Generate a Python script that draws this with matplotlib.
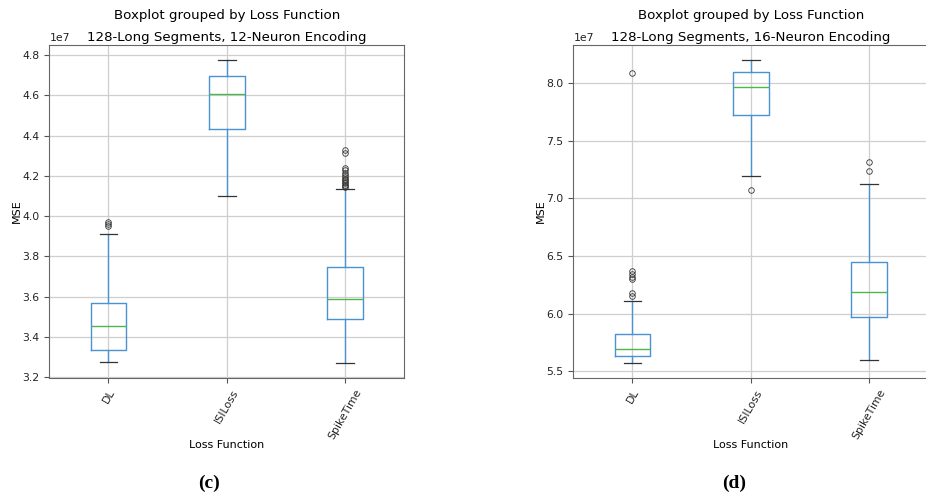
import matplotlib
matplotlib.use('Agg')
import matplotlib.pyplot as plt

categories = ['DL', 'ISILoss', 'SpikeTime']

# panel (c): 12-neuron encoding, values in units of 1e7
c_whislo = [3.273, 4.099, 3.270]
c_q1 = [3.334, 4.431, 3.487]
c_med = [3.453, 4.605, 3.586]
c_q3 = [3.566, 4.696, 3.745]
c_whishi = [3.909, 4.774, 4.134]
c_fliers = [
    [3.952, 3.958, 3.968],
    [],
    [4.142, 4.148, 4.155, 4.162, 4.170, 4.178, 4.186, 4.195, 4.205,
     4.215, 4.228, 4.240, 4.312, 4.328],
]

# panel (d): 16-neuron encoding, values in units of 1e7
d_whislo = [5.570, 7.197, 5.600]
d_q1 = [5.630, 7.727, 5.972]
d_med = [5.691, 7.965, 6.184]
d_q3 = [5.819, 8.095, 6.444]
d_whishi = [6.106, 8.200, 7.122]
d_fliers = [
    [6.152, 6.175, 6.297, 6.314, 6.340, 6.369, 8.087],
    [7.070],
    [7.237, 7.319],
]

titles = ['128-Long Segments, 12-Neuron Encoding',
          '128-Long Segments, 16-Neuron Encoding']
panel_labels = ['(c)', '(d)']


def make_stats(lo, q1, med, q3, hi, fl):
    stats = []
    for i, name in enumerate(categories):
        stats.append(dict(label=name, whislo=lo[i] * 1e7, q1=q1[i] * 1e7,
                          med=med[i] * 1e7, q3=q3[i] * 1e7,
                          whishi=hi[i] * 1e7,
                          fliers=[v * 1e7 for v in fl[i]]))
    return stats


fig = plt.figure(figsize=(9.26, 5.0), dpi=100)
ax_c = fig.add_axes([49.3 / 926, 1 - 378 / 500, 355 / 926, 333 / 500])
ax_d = fig.add_axes([573.3 / 926, 1 - 378 / 500, 355 / 926, 333 / 500])

panels = [
    (ax_c, make_stats(c_whislo, c_q1, c_med, c_q3, c_whishi, c_fliers),
     (3.195e7, 4.85e7)),
    (ax_d, make_stats(d_whislo, d_q1, d_med, d_q3, d_whishi, d_fliers),
     (5.44e7, 8.333e7)),
]

blue = '#4a93d2'
for k, (ax, stats, ylim) in enumerate(panels):
    ax.bxp(stats, positions=[1, 2, 3], widths=0.3, showfliers=True,
           boxprops=dict(color=blue, lw=1),
           whiskerprops=dict(color=blue, lw=1),
           medianprops=dict(color='#4cb84c', lw=1),
           capprops=dict(color='#333333', lw=0.9),
           flierprops=dict(marker='o', markerfacecolor='none',
                           markeredgecolor='#333333', markersize=4,
                           markeredgewidth=0.6))
    ax.set_xlim(0.5, 3.5)
    ax.set_ylim(*ylim)
    ax.grid(True, color='#cfcfcf', lw=0.9)
    ax.set_axisbelow(True)
    ax.tick_params(labelsize=7.8, color='#555555', labelcolor='#222222')
    ax.yaxis.get_offset_text().set_fontsize(7.8)
    plt.setp(ax.get_xticklabels(), rotation=60)
    ax.set_xlabel('Loss Function', fontsize=8, labelpad=-1)
    ax.set_ylabel('MSE', fontsize=8, labelpad=0.5)
    ax.set_title(titles[k], fontsize=9.6, pad=3)
    ax.text(0.5, 1.0 + 30 / 333, 'Boxplot grouped by Loss Function',
            transform=ax.transAxes, ha='center', va='center', fontsize=9.6)
    for s in ax.spines.values():
        s.set_color('#666666')

fig.text(209 / 926, 1 - 483 / 500, panel_labels[0], ha='center', va='center',
         fontsize=14, fontweight='bold', family='Liberation Serif')
fig.text(734 / 926, 1 - 483 / 500, panel_labels[1], ha='center', va='center',
         fontsize=14, fontweight='bold', family='Liberation Serif')

fig.savefig('out.png', dpi=100)
